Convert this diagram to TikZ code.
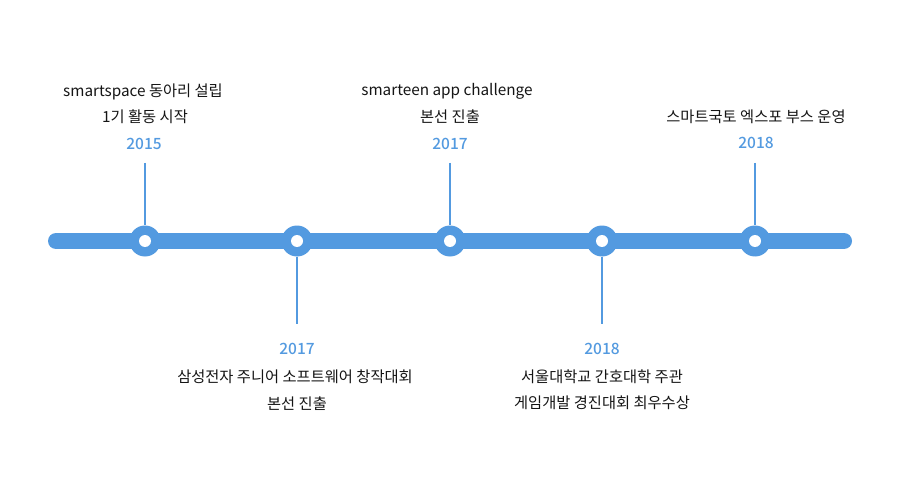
\documentclass[tikz,border=0pt]{standalone}
\usepackage{fontspec}
\setmainfont{Noto Sans CJK KR}
\newfontfamily\medfont{Noto Sans CJK KR Medium}
\definecolor{tlblue}{HTML}{539AE0}
\definecolor{tltext}{HTML}{151515}
\begin{document}
\begin{tikzpicture}[x=1pt,y=-1pt,
  bar/.style={line width=16pt,line cap=round,draw=tlblue},
  dot/.style={circle,fill=tlblue,minimum size=31pt,inner sep=0pt},
  hole/.style={circle,fill=white,minimum size=12pt,inner sep=0pt},
  stem/.style={draw=tlblue,line width=2pt},
  lbl/.style={text=tltext,font=\fontsize{15.3pt}{17pt}\selectfont,inner sep=0pt,anchor=center},
  yr/.style={text=tlblue,font=\medfont\fontsize{15.5pt}{17pt}\selectfont,inner sep=0pt,anchor=center}]
\fill[white] (0,0) rectangle (900,500);
\coordinate (L) at (56,241);
\coordinate (R) at (844,241);
\draw[bar] (L) -- (R);
% dots
\foreach \n/\x in {a/145,b/297,c/450,d/602,e/755}{
  \node[dot] (\n) at (\x,241) {};
  \node[hole] at (\x,241) {};
}
% stems
\coordinate (ta) at (145,163);
\coordinate (tc) at (450,163);
\coordinate (te) at (755,163);
\coordinate (bb) at (297,324);
\coordinate (bd) at (602,324);
\draw[stem] (ta) -- (a.north);
\draw[stem] (tc) -- (c.north);
\draw[stem] (te) -- (e.north);
\draw[stem] (b.south) -- (bb);
\draw[stem] (d.south) -- (bd);
% top labels
\node[lbl] (a1) at (143,92) {smartspace 동아리 설립};
\node[lbl] (a2) at (145,117) {1기 활동 시작};
\node[yr] (a3) at (144,144) {2015};
\node[lbl] (c1) at (447,91) {smarteen app challenge};
\node[lbl] (c2) at (450,117) {본선 진출};
\node[yr] (c3) at (450,144) {2017};
\node[lbl] (e1) at (756,117) {스마트국토 엑스포 부스 운영};
\node[yr] (e2) at (756,143) {2018};
% bottom labels
\node[yr] (b1) at (297,349) {2017};
\node[lbl] (b2) at (295,377) {삼성전자 주니어 소프트웨어 창작대회};
\node[lbl] (b3) at (297,404) {본선 진출};
\node[yr] (d1) at (602,349) {2018};
\node[lbl] (d2) at (602,377) {서울대학교 간호대학 주관};
\node[lbl] (d3) at (602,403) {게임개발 경진대회 최우수상};
\end{tikzpicture}
\end{document}
